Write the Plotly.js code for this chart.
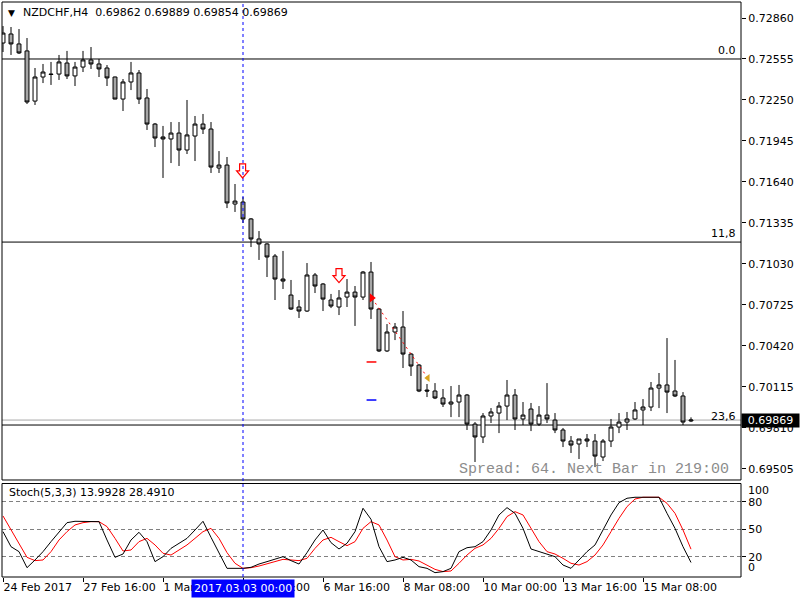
<!DOCTYPE html>
<html>
<head>
<meta charset="utf-8">
<script src="https://cdn.plot.ly/plotly-3.0.1.min.js"></script>
<style>
html,body{margin:0;padding:0;background:#fff;}
#chart{width:800px;height:600px;}
</style>
</head>
<body>
<div id="chart"></div>
<script>
// ---- data (NZDCHF, H4) ----
const open = [0.72674,0.72741,0.72667,0.72615,0.72242,0.72421,0.72443,0.72443,0.72525,0.72429,
0.72495,0.72548,0.72518,0.72488,0.72421,0.72257,0.72384,0.72451,0.72265,0.72071,
0.71975,0.71960,0.72004,0.71878,0.71982,0.72071,0.72034,0.71744,0.71766,0.71476,
0.71491,0.71365,0.71216,0.71179,0.71089,0.70918,0.70799,0.70710,0.70680,0.70948,
0.70881,0.70762,0.70710,0.70784,0.70821,0.70784,0.70970,0.70695,0.70383,0.70524,
0.70561,0.70360,0.70278,0.70092,0.70085,0.70033,0.69988,0.70003,0.70055,0.69839,
0.69743,0.69899,0.69921,0.69973,0.70055,0.69877,0.69951,0.69839,0.69906,0.69869,
0.69795,0.69713,0.69691,0.69728,0.69713,0.69594,0.69713,0.69817,0.69854,0.69877,
0.69944,0.69966,0.70107,0.70130,0.70085,0.70048,0.69862];
const high = [0.72800,0.72793,0.72778,0.72711,0.72488,0.72518,0.72533,0.72585,0.72615,0.72533,
0.72615,0.72644,0.72555,0.72510,0.72424,0.72406,0.72533,0.72473,0.72332,0.72079,
0.72057,0.72086,0.72086,0.72250,0.72131,0.72146,0.72086,0.71870,0.71826,0.71625,
0.71528,0.71372,0.71275,0.71186,0.71104,0.71127,0.70911,0.70762,0.71037,0.70963,
0.70888,0.70807,0.70836,0.70918,0.70866,0.70978,0.71045,0.70702,0.70583,0.70591,
0.70680,0.70368,0.70286,0.70137,0.70144,0.70100,0.70122,0.70130,0.70063,0.69854,
0.69921,0.69958,0.70003,0.70167,0.70100,0.70003,0.69996,0.69973,0.70144,0.69921,
0.69810,0.69750,0.69728,0.69765,0.69765,0.69728,0.69877,0.69921,0.69929,0.70003,
0.70025,0.70152,0.70219,0.70479,0.70316,0.70077,0.69889];
const low = [0.72607,0.72585,0.72592,0.72220,0.72213,0.72376,0.72362,0.72399,0.72406,0.72354,
0.72458,0.72481,0.72421,0.72354,0.72255,0.72168,0.72324,0.72220,0.72027,0.71900,
0.71670,0.71781,0.71759,0.71848,0.71796,0.71997,0.71707,0.71707,0.71446,0.71417,
0.71335,0.71156,0.71060,0.70933,0.70762,0.70844,0.70688,0.70628,0.70673,0.70814,
0.70680,0.70702,0.70650,0.70710,0.70569,0.70762,0.70621,0.70375,0.70375,0.70464,
0.70256,0.70197,0.70077,0.70040,0.70025,0.69966,0.69891,0.69891,0.69795,0.69557,
0.69698,0.69847,0.69772,0.69869,0.69795,0.69832,0.69787,0.69825,0.69847,0.69772,
0.69668,0.69624,0.69579,0.69668,0.69519,0.69564,0.69668,0.69772,0.69795,0.69869,
0.69832,0.69936,0.69958,0.69921,0.70040,0.69832,0.69854];
const close = [0.72748,0.72667,0.72600,0.72235,0.72421,0.72458,0.72440,0.72533,0.72429,0.72495,
0.72548,0.72518,0.72481,0.72414,0.72257,0.72384,0.72451,0.72257,0.72071,0.71967,
0.71960,0.72004,0.71878,0.71990,0.72071,0.72034,0.71751,0.71766,0.71484,0.71498,
0.71365,0.71216,0.71179,0.71082,0.70918,0.70903,0.70695,0.70680,0.70948,0.70866,
0.70769,0.70717,0.70777,0.70821,0.70784,0.70970,0.70695,0.70383,0.70524,0.70561,
0.70360,0.70271,0.70085,0.70085,0.70033,0.69988,0.70003,0.70055,0.69839,0.69743,
0.69899,0.69929,0.69973,0.70055,0.69877,0.69906,0.69839,0.69906,0.69877,0.69795,
0.69713,0.69683,0.69728,0.69713,0.69601,0.69713,0.69817,0.69854,0.69877,0.69944,
0.69966,0.70107,0.70130,0.70077,0.70048,0.69854,0.69869];

// Stochastic (5,3,3): main (%K) and signal (%D)
const stochMain = [47.6,31.2,25.8,8.3,16.7,25.8,36.7,47.6,57.4,58.9,
58.9,58.9,58.5,38.5,19.6,23.2,38.5,46.9,36.7,14.9,
20.3,29.4,34.9,40.3,49.4,58.9,41.4,24.0,7.6,7.6,
7.6,8.7,12.3,14.9,17.4,20.3,16.0,12.3,24.7,38.5,
49.4,35.6,28.7,34.9,47.6,73.1,61.1,31.2,14.9,16.7,
19.6,16.7,9.4,7.6,2.9,4.0,7.6,25.8,30.1,31.2,
36.7,49.4,65.8,73.8,67.6,51.2,28.7,25.8,23.2,20.3,
11.2,7.6,16.7,25.8,33.1,49.4,65.8,79.2,84.0,85.1,
85.1,85.8,85.1,67.6,51.2,31.2,13.9928];
const stochSignal = [64.7,49.4,34.9,19.6,16.0,16.7,25.8,38.5,47.6,54.9,
57.4,58.5,58.5,53.1,40.3,26.5,27.6,36.7,40.3,33.1,
24.0,22.1,27.6,33.1,40.3,47.6,51.2,40.3,24.7,13.1,
7.6,8.3,10.1,12.3,14.9,17.4,16.7,16.0,18.5,29.4,
38.5,41.4,36.7,32.3,36.7,51.2,58.5,54.9,38.5,20.3,
16.7,17.4,15.6,11.2,6.5,4.0,4.7,13.1,22.1,29.4,
33.1,40.3,51.2,64.0,69.4,65.8,51.2,36.7,25.8,23.2,
18.5,13.1,11.2,14.9,22.1,33.1,47.6,62.1,74.9,83.2,
85.1,85.1,85.1,78.5,67.6,49.4,28.4910];

// time axis labels (bar index -> label)
const timeTickIdx = [0,10,20,30,40,50,60,70,80];
const timeTickText = ['24 Feb 2017','27 Feb 16:00','1 Mar 08:00','3 Mar 00:00','6 Mar 16:00','8 Mar 08:00','10 Mar 00:00','13 Mar 16:00','15 Mar 08:00'];
const priceTicks = [0.72860,0.72555,0.72250,0.71945,0.71640,0.71335,0.71030,0.70725,0.70420,0.70115,0.69810,0.69505];
const stochLevels = [80,50,20];

// Fibonacci levels and labels
const fibLevels = [0.72555,0.71193,0.69832];
const fibLabels = ['0.0','11,8','23,6'];
const bidPrice = 0.69869;
const crossIdx = 30;
const crossLabel = '2017.03.03 00:00';

// signal objects
const sellArrowIdx = [29.95,42];
const sellArrowPrice = [0.71722,0.70944];
const tradeIdx = [46.1,53.1];
const tradePrice = [0.70777,0.70182];
const slIdx = [46.06], slPrice = [0.70301];
const tpIdx = [46.06], tpPrice = [0.70018];

const barIdx = open.map((_, i) => i);
const FONT = 'DejaVu Sans, sans-serif';

const X_RANGE = [-0.125, 92.25], Y_RANGE = [0.69423, 0.72979];

const traces = [
  {
    type: 'candlestick', x: barIdx, open: open, high: high, low: low, close: close,
    xaxis: 'x', yaxis: 'y',
    increasing: {line: {color: '#000', width: 1}, fillcolor: '#ffffff'},
    decreasing: {line: {color: '#000', width: 1}, fillcolor: '#a6a6a6'},
    whiskerwidth: 0, hoverinfo: 'skip'
  },
  {
    type: 'scatter', mode: 'lines', x: tradeIdx, y: tradePrice, xaxis: 'x', yaxis: 'y',
    line: {color: '#ff0000', width: 1, dash: '2px,4px'}, hoverinfo: 'skip'
  },
  {
    type: 'scatter', mode: 'markers', x: [tradeIdx[0]], y: [tradePrice[0]], xaxis: 'x', yaxis: 'y',
    marker: {symbol: 'triangle-right', size: 8, color: '#ff0000'}, hoverinfo: 'skip'
  },
  {
    type: 'scatter', mode: 'markers', x: [tradeIdx[1]], y: [tradePrice[1]], xaxis: 'x', yaxis: 'y',
    marker: {symbol: 'triangle-left', size: 7, color: '#daa520'}, hoverinfo: 'skip'
  },
  {
    type: 'scatter', mode: 'markers', x: slIdx, y: slPrice, xaxis: 'x', yaxis: 'y',
    marker: {symbol: 'line-ew', size: 7, line: {color: '#ff0000', width: 1.5}}, hoverinfo: 'skip'
  },
  {
    type: 'scatter', mode: 'markers', x: tpIdx, y: tpPrice, xaxis: 'x', yaxis: 'y',
    marker: {symbol: 'line-ew', size: 7, line: {color: '#0000ff', width: 1.5}}, hoverinfo: 'skip'
  },
  {
    type: 'scatter', mode: 'lines', x: barIdx, y: stochSignal, xaxis: 'x', yaxis: 'y2',
    line: {color: '#ff0000', width: 1}, hoverinfo: 'skip'
  },
  {
    type: 'scatter', mode: 'lines', x: barIdx, y: stochMain, xaxis: 'x', yaxis: 'y2',
    line: {color: '#000000', width: 1}, hoverinfo: 'skip'
  }
];

const MAIN_BOTTOM = 0.1687, STOCH_TOP = 0.1626;

// size of one screen pixel in data units (main panel), used to draw hollow arrow glyphs
const PX_X = (X_RANGE[1] - X_RANGE[0]) / 739;
const PX_Y = (Y_RANGE[1] - Y_RANGE[0]) / 478;
function arrowPath(cx, cy) {
  const sx = 3 * PX_X, hx = 6 * PX_X, top = cy + 7 * PX_Y, mid = cy, tip = cy - 7 * PX_Y;
  return 'M' + (cx - sx) + ',' + top + 'L' + (cx + sx) + ',' + top + 'L' + (cx + sx) + ',' + mid +
    'L' + (cx + hx) + ',' + mid + 'L' + cx + ',' + tip + 'L' + (cx - hx) + ',' + mid +
    'L' + (cx - sx) + ',' + mid + 'Z';
}

const shapes = [];
fibLevels.forEach(v => shapes.push({type: 'line', xref: 'paper', x0: 0, x1: 1, yref: 'y', y0: v, y1: v,
  line: {color: '#000', width: 1}, layer: 'below'}));
shapes.push({type: 'line', xref: 'paper', x0: 0, x1: 1, yref: 'y', y0: bidPrice, y1: bidPrice,
  line: {color: '#a8a8a8', width: 1}, layer: 'below'});
shapes.push({type: 'rect', xref: 'paper', x0: 0, x1: 1, yref: 'paper', y0: MAIN_BOTTOM, y1: 1,
  line: {color: '#000', width: 1}, fillcolor: 'rgba(0,0,0,0)'});
shapes.push({type: 'rect', xref: 'paper', x0: 0, x1: 1, yref: 'paper', y0: 0, y1: STOCH_TOP,
  line: {color: '#000', width: 1}, fillcolor: 'rgba(0,0,0,0)'});
shapes.push({type: 'line', xref: 'x', x0: crossIdx, x1: crossIdx, yref: 'paper', y0: 0, y1: 1,
  line: {color: '#0000ff', width: 1, dash: '3px,3px'}});
sellArrowIdx.forEach((xi, k) => shapes.push({type: 'path', xref: 'x', yref: 'y',
  path: arrowPath(xi, sellArrowPrice[k]), line: {color: '#ff0000', width: 1.2}, fillcolor: 'rgba(255,255,255,0)'}));

const annotations = [
  {xref: 'paper', yref: 'paper', x: 0.0054, y: 0.981, xanchor: 'left', yanchor: 'middle', showarrow: false,
   text: '\u25bc', font: {family: FONT, size: 9, color: '#000'}},
  {xref: 'paper', yref: 'paper', x: 0.0257, y: 0.981, xanchor: 'left', yanchor: 'middle', showarrow: false,
   text: 'NZDCHF,H4\u00a0\u00a0' + [open[86], high[86], low[86], close[86]].map(v => v.toFixed(5)).join(' '),
   font: {family: FONT, size: 11, color: '#000'}},
  {xref: 'paper', yref: 'paper', x: 0.0068, y: 0.1461, xanchor: 'left', yanchor: 'middle', showarrow: false,
   text: 'Stoch(5,3,3) ' + stochMain[86].toFixed(4) + ' ' + stochSignal[86].toFixed(4),
   font: {family: FONT, size: 11, color: '#000'}},
  {xref: 'paper', yref: 'paper', x: 0.9865, y: 0.1878, xanchor: 'right', yanchor: 'middle', showarrow: false,
   text: 'Spread: 64. Next Bar in 219:00',
   font: {family: 'Liberation Mono, Courier New, monospace', size: 15, color: '#8c8c8c'}},
  {xref: 'paper', yref: 'y', x: 1, y: bidPrice, xanchor: 'left', yanchor: 'middle', showarrow: false,
   text: bidPrice.toFixed(5), bgcolor: '#000', borderpad: 0, width: 57, height: 13, align: 'center',
   font: {family: FONT, size: 11, color: '#fff'}},
  {xref: 'x', yref: 'paper', x: crossIdx, y: 0, xanchor: 'center', yanchor: 'top', yshift: -2, showarrow: false,
   text: crossLabel, bgcolor: '#0000ff', borderpad: 2,
   font: {family: FONT, size: 11, color: '#fff'}},
  {xref: 'paper', yref: 'y2', x: 1, y: 92, xanchor: 'left', yanchor: 'middle', xshift: 5, showarrow: false,
   text: '100', font: {family: FONT, size: 11, color: '#000'}},
  {xref: 'paper', yref: 'y2', x: 1, y: 8, xanchor: 'left', yanchor: 'middle', xshift: 5, showarrow: false,
   text: '0', font: {family: FONT, size: 11, color: '#000'}}
];
fibLevels.forEach((v, k) => annotations.push({xref: 'paper', yref: 'y', x: 0.9959, y: v,
  xanchor: 'right', yanchor: 'bottom', showarrow: false, text: fibLabels[k],
  font: {family: FONT, size: 11, color: '#000'}}));

const layout = {
  width: 800, height: 600,
  margin: {l: 2, r: 59, t: 2, b: 23, pad: 0},
  paper_bgcolor: '#fff', plot_bgcolor: '#fff',
  showlegend: false, hovermode: false,
  font: {family: FONT, size: 11, color: '#000'},
  xaxis: {
    range: X_RANGE, anchor: 'y2', tickmode: 'array', tickvals: timeTickIdx, ticktext: timeTickText,
    ticks: 'outside', ticklen: 4, tickcolor: '#000', ticklabelposition: 'outside right', tickangle: 0,
    automargin: false,
    showgrid: false, zeroline: false, showline: false, rangeslider: {visible: false},
    tickfont: {family: FONT, size: 11, color: '#000'}
  },
  yaxis: {
    domain: [MAIN_BOTTOM, 1], range: Y_RANGE, side: 'right', anchor: 'x',
    tickmode: 'array', tickvals: priceTicks, ticktext: priceTicks.map(v => v.toFixed(5)),
    ticks: 'outside', ticklen: 4, tickcolor: '#000', showgrid: false, zeroline: false, showline: false,
    tickfont: {family: FONT, size: 11, color: '#000'}
  },
  yaxis2: {
    domain: [0, STOCH_TOP], range: [-1.85, 100.1], side: 'right', anchor: 'x',
    tickmode: 'array', tickvals: stochLevels, ticktext: stochLevels.map(String),
    ticks: 'outside', ticklen: 4, tickcolor: '#000', showgrid: true, gridcolor: '#808080', griddash: '4px,3px',
    gridwidth: 1, zeroline: false, showline: false,
    tickfont: {family: FONT, size: 11, color: '#000'}
  },
  shapes: shapes,
  annotations: annotations
};

Plotly.newPlot('chart', traces, layout, {staticPlot: true, displayModeBar: false});
</script>
</body>
</html>
